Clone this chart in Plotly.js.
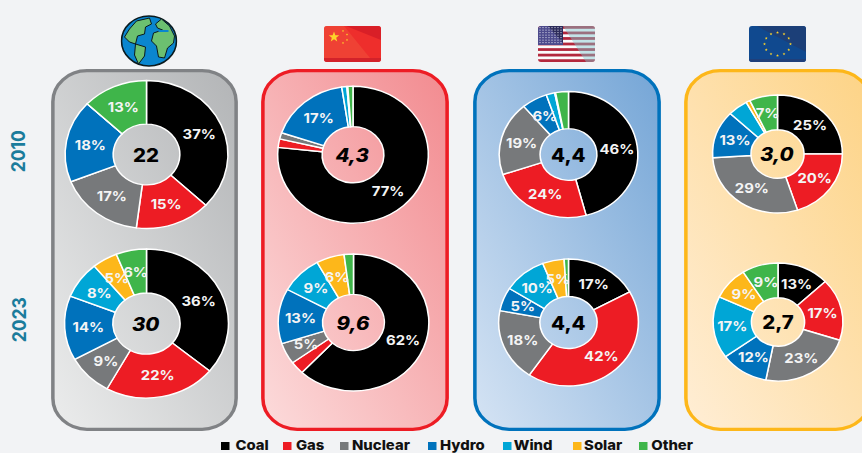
<!DOCTYPE html>
<html>
<head>
<meta charset="utf-8">
<script src="https://cdn.plot.ly/plotly-3.0.1.min.js"></script>
<style>
html,body{margin:0;padding:0;background:#f2f3f5;overflow:hidden;width:862px;height:453px}
#chart{width:800px;height:453px;transform:scaleX(1.1);transform-origin:0 0}
</style>
</head>
<body>
<div id="chart"></div>
<script>
// ---------- data ----------
const sources = ["Coal","Gas","Nuclear","Hydro","Wind","Solar","Other"];
const colors  = ["#000000","#ed1c24","#77797b","#0072bc","#00a6d6","#fdb71a","#3fb54a"];
const years   = ["2010","2023"];

const world2010 = [37,15,17,18,0,0,13];
const china2010 = [76.7,2,1.5,17.4,1.1,0.2,1.1];
const us2010    = [46,24,19,6,2,0.2,3];
const eu2010    = [25,20,29,13,5,1,7];
const world2023 = [36,22,9,14,8,5,6];
const china2023 = [62,3,5,13,9,6,2];
const us2023    = [17,42.5,18.5,6,10,5,1];
const eu2023    = [13,17,23,12,17,9,9];

const worldLabels2010 = ["37%","15%","17%","18%","","","13%"];
const chinaLabels2010 = ["77%","","","17%","","",""];
const usLabels2010    = ["46%","24%","19%","6%","","",""];
const euLabels2010    = ["25%","20%","29%","13%","","","7%"];
const worldLabels2023 = ["36%","22%","9%","14%","8%","5%","6%"];
const chinaLabels2023 = ["62%","","5%","13%","9%","6%",""];
const usLabels2023    = ["17%","42%","18%","5%","10%","5%",""];
const euLabels2023    = ["13%","17%","23%","12%","17%","9%","9%"];

const totals2010 = ["22","4,3","4,4","3,0"];
const totals2023 = ["30","9,6","4,4","2,7"];

// ---------- layout helpers (reference pixels -> paper) ----------
const W = 800, H = 453, S = 1.1;
const fx = x => x / S / W;
const fy = y => 1 - y / H;
const FONT = "Inter, 'Open Sans', sans-serif";

const pies = [
  {v:world2010,l:worldLabels2010,t:totals2010[0],cx:146.5,cy:154.5,r:74,  it:false},
  {v:china2010,l:chinaLabels2010,t:totals2010[1],cx:353,  cy:154.7,r:68.5,it:true},
  {v:us2010,   l:usLabels2010,   t:totals2010[2],cx:568.5,cy:154.5,r:63,  it:false},
  {v:eu2010,   l:euLabels2010,   t:totals2010[3],cx:777.5,cy:154,  r:59,  it:true},
  {v:world2023,l:worldLabels2023,t:totals2023[0],cx:146.5,cy:323.5,r:74.5,it:true},
  {v:china2023,l:chinaLabels2023,t:totals2023[1],cx:353.5,cy:322.5,r:68.5,it:true},
  {v:us2023,   l:usLabels2023,   t:totals2023[2],cx:568.5,cy:322.5,r:63.5,it:false},
  {v:eu2023,   l:euLabels2023,   t:totals2023[3],cx:778,  cy:322,  r:59,  it:false}
];

const HOLE = 0.41, LABEL_R = 0.705;
const traces = [], annotations = [], shapes = [], images = [];

pies.forEach(p => {
  traces.push({
    type:"pie", labels:sources, values:p.v, sort:false, direction:"clockwise", rotation:0,
    hole:HOLE, textinfo:"none", hoverinfo:"skip", showlegend:false,
    marker:{colors:colors, line:{color:"#ffffff", width:1.4}},
    domain:{x:[(p.cx/S-p.r)/W,(p.cx/S+p.r)/W], y:[1-(p.cy+p.r)/H,1-(p.cy-p.r)/H]}
  });
  const sum = p.v.reduce((a,b)=>a+b,0);
  let acc = 0;
  p.v.forEach((v,i) => {
    const a = (acc + v/2)/sum*2*Math.PI; acc += v;
    if(!p.l[i]) return;
    annotations.push({
      xref:"paper", yref:"paper", showarrow:false, xanchor:"center", yanchor:"middle",
      x:fx(p.cx + LABEL_R*p.r*Math.sin(a)*S), y:fy(p.cy - LABEL_R*p.r*Math.cos(a)),
      text:p.l[i], font:{family:FONT, size:13.5, color:"#f4f4f4", weight:700}
    });
  });
  annotations.push({
    xref:"paper", yref:"paper", showarrow:false, xanchor:"center", yanchor:"middle",
    x:fx(p.cx), y:fy(p.cy),
    text:p.t, font:{family:FONT, size:18.5, color:"#000000", weight:800, style:p.it?"italic":"normal"}
  });
});

// year labels
[[years[0],151],[years[1],320]].forEach(([t,y]) => annotations.push({
  xref:"paper", yref:"paper", showarrow:false, xanchor:"center", yanchor:"middle", textangle:-90,
  x:fx(18), y:fy(y), text:t, font:{family:FONT, size:17.5, color:"#1b7c9c", weight:700}
}));

// legend
const swatchX = [221,283,340,428,503,573,639];
const textX   = [234,295,351,439,513,583,650];
sources.forEach((s,i) => {
  shapes.push({type:"rect", xref:"paper", yref:"paper", line:{width:0}, fillcolor:colors[i],
    x0:fx(swatchX[i]), x1:fx(swatchX[i]+8.5), y0:fy(450), y1:fy(442)});
  annotations.push({xref:"paper", yref:"paper", showarrow:false, xanchor:"left", yanchor:"middle",
    x:fx(textX[i]), y:fy(444.6), xshift:-1, text:s, font:{family:FONT, size:13.5, color:"#111111", weight:800}});
});

// panels + pictograms (decorative images)
const uri = s => "data:image/svg+xml;base64," + btoa(s);
const panel = (id,c0,c1,stroke,w,h) => uri(
 `<svg xmlns="http://www.w3.org/2000/svg" width="${w}" height="${h}" viewBox="0 0 ${w} ${h}" preserveAspectRatio="none">
  <defs><linearGradient id="${id}" gradientUnits="userSpaceOnUse" x1="0" y1="${h}" x2="281" y2="222"><stop offset="0" stop-color="${c0}"/><stop offset="1" stop-color="${c1}"/></linearGradient></defs>
  <rect x="1.7" y="1.7" width="${w-3.4}" height="${h-3.4}" rx="31" ry="31" fill="url(#${id})" stroke="${stroke}" stroke-width="3.2"/></svg>`);
const addImg = (src,x0,x1,y0,y1,layer) => images.push({source:src, xref:"paper", yref:"paper",
  x:fx(x0), y:fy(y0), sizex:fx(x1)-fx(x0), sizey:(y1-y0)/H, xanchor:"left", yanchor:"top", sizing:"stretch", layer:layer});

addImg(panel("g1","#eceded","#b2b4b6","#808285",170,362),51,238,69,431,"below");
addImg(panel("g2","#fcdcdc","#f28a8f","#ed1c24",170,362),261,449,69,431,"below");
addImg(panel("g3","#d6e4f4","#74a5d6","#0072bc",170,362),473,661,69,431,"below");
addImg(panel("g4","#ffeed6","#fdd385","#fdb71a",170,362),684,872,69,431,"below");

const globe = `<svg xmlns="http://www.w3.org/2000/svg" width="57" height="52" viewBox="0 0 57 52" preserveAspectRatio="none">
<ellipse cx="28.5" cy="26" rx="27.5" ry="25" fill="#0a86cf" stroke="#0b1a1e" stroke-width="1.6"/>
<path d="M9 14 L16 6 L29 3 L31 9 L25 12 L24 19 L17 21 L15 29 L9 27 L4 22Z" fill="#6cc070" stroke="#0b1a1e" stroke-width="1"/>
<path d="M15 29 L25 32 L24 41 L18 49 L14 40Z" fill="#6cc070" stroke="#0b1a1e" stroke-width="1"/>
<path d="M35 9 L41 4 L49 11 L54 21 L53 28 L47 33 L44 43 L38 42 L36 31 L31 26 L33 18 L42 15 L37 13Z" fill="#6cc070" stroke="#0b1a1e" stroke-width="1"/>
<path d="M38 15 H48 V17 H38Z" fill="#0a86cf"/>
</svg>`;
addImg(uri(globe),120.5,177.5,15,67,"above");

const star = (cx,cy,r,f) => { let d=""; for(let i=0;i<10;i++){const a=-Math.PI/2+i*Math.PI/5,q=i%2?r*0.42:r;d+=(i?"L":"M")+(cx+q*Math.cos(a)).toFixed(2)+","+(cy+q*Math.sin(a)).toFixed(2);} return `<path d="${d}Z" fill="${f}"/>`; };

const cn = `<svg xmlns="http://www.w3.org/2000/svg" width="57" height="36" viewBox="0 0 57 36" preserveAspectRatio="none">
<rect width="57" height="36" rx="3" fill="#ee2e2c"/><path d="M22 0H54a3 3 0 0 1 3 3V14Z" fill="#d91f27"/><path d="M0 32H57V33a3 3 0 0 1-3 3H3a3 3 0 0 1-3-3Z" fill="#d3222a"/><path d="M0 3a3 3 0 0 1 3-3H20L46 32H0Z" fill="#f04a37" opacity=".7"/>
${star(10,11,5.5,"#fdd32a")}${star(19,5,1.2,"#fdd32a")}${star(23,8.5,1.2,"#fdd32a")}${star(23,14,1.2,"#fdd32a")}${star(19,17,1.2,"#fdd32a")}</svg>`;
addImg(uri(cn),324,381,26,62,"above");

let stripes=""; for(let i=0;i<7;i++) stripes+=`<rect y="${i*5.54}" width="57" height="2.77" fill="#b3283d"/>`;
let dots=""; for(let r=0;r<7;r++) for(let c=0;c<8;c++) dots+=`<circle cx="${2+c*3}" cy="${1.6+r*2.5}" r=".6" fill="#e8e8f4"/>`;
const us = `<svg xmlns="http://www.w3.org/2000/svg" width="57" height="36" viewBox="0 0 57 36" preserveAspectRatio="none">
<defs><clipPath id="u"><rect width="57" height="36" rx="3"/></clipPath></defs>
<g clip-path="url(#u)"><rect width="57" height="36" fill="#fbfbfb"/>${stripes}<path d="M25 0H57V36H48Z" fill="#7fc8d0" opacity=".45"/>
<rect width="25" height="19" fill="#4c4a8c"/><path d="M10 0H25V17Z" fill="#1f1e44" opacity=".7"/>${dots}</g></svg>`;
addImg(uri(us),538,595,26,62,"above");

let eustars=""; for(let i=0;i<12;i++){const a=i*Math.PI/6; eustars+=star(28.5+13*Math.sin(a),18-11.5*Math.cos(a),1.5,"#fdd32a");}
const eu = `<svg xmlns="http://www.w3.org/2000/svg" width="57" height="36" viewBox="0 0 57 36" preserveAspectRatio="none">
<rect width="57" height="36" rx="3" fill="#10498f"/><path d="M8 0H54a3 3 0 0 1 3 3V26Z" fill="#1c3f78"/><path d="M0 33H57a3 3 0 0 1-3 3H3a3 3 0 0 1-3-3Z" fill="#1f3f7a"/>
${eustars}</svg>`;
addImg(uri(eu),749,806,26,62,"above");

Plotly.newPlot("chart", traces, {
  width:W, height:H, margin:{l:0,r:0,t:0,b:0},
  paper_bgcolor:"#f2f3f5", plot_bgcolor:"rgba(0,0,0,0)",
  font:{family:FONT}, showlegend:false,
  annotations:annotations, shapes:shapes, images:images
}, {staticPlot:true, displayModeBar:false});
</script>
</body>
</html>
